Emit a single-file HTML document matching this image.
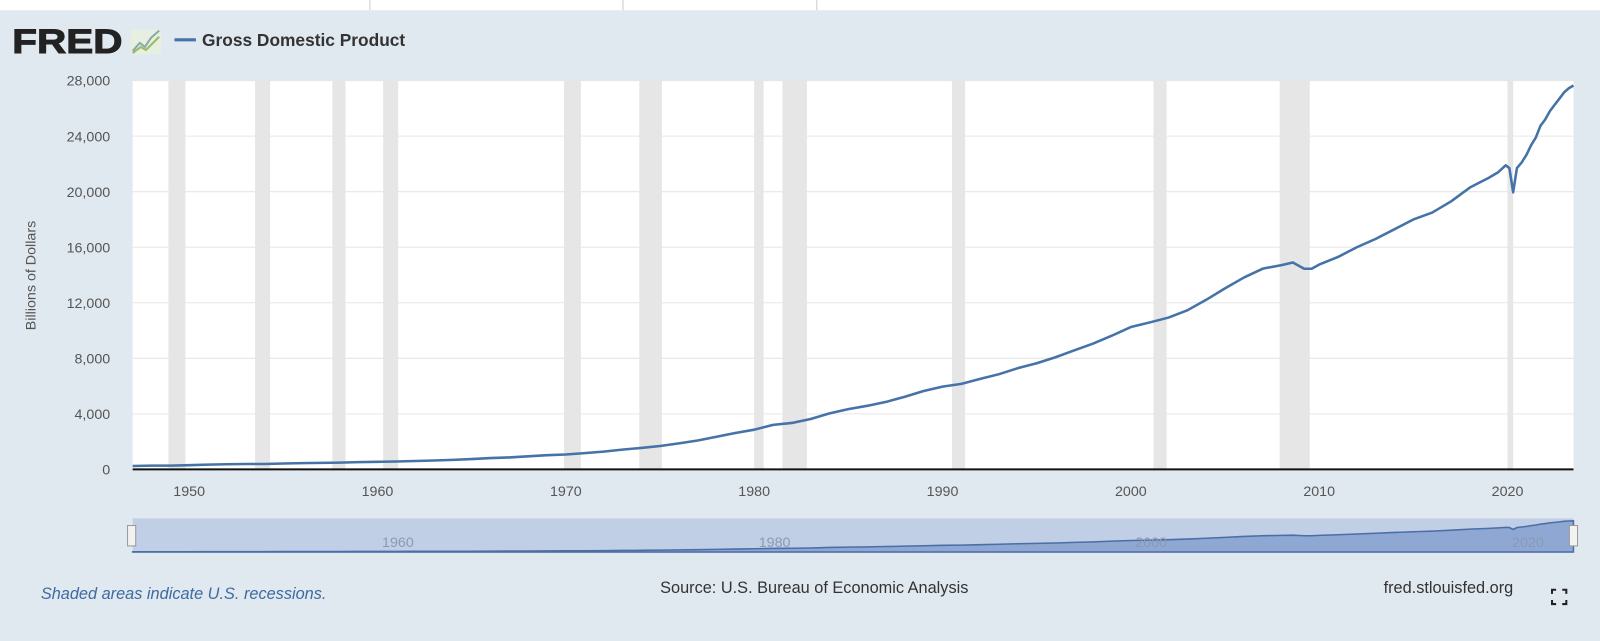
<!DOCTYPE html>
<html><head><meta charset="utf-8"><style>
body{margin:0;width:1600px;height:640px;background:#e1e9f0;font-family:"Liberation Sans",sans-serif;overflow:hidden}
#wrap{position:absolute;left:0;top:0;width:1568px;height:628px;transform:scale(1.0204);transform-origin:0 0}
</style></head><body>
<div id="wrap">
<div style="position:absolute;left:0;top:0;width:1568px;height:10px;background:#fff"></div>
<div style="position:absolute;left:362px;top:0;width:1px;height:10px;background:#ccc"></div>
<div style="position:absolute;left:610px;top:0;width:1px;height:10px;background:#ccc"></div>
<div style="position:absolute;left:800px;top:0;width:1px;height:10px;background:#ccc"></div>
<svg id="c" width="1568" height="628" style="position:absolute;left:0;top:0" xmlns="http://www.w3.org/2000/svg">
<g>
<text x="12" y="52" font-family="Liberation Sans" font-weight="bold" font-size="34" fill="#222" stroke="#222" stroke-width="1" textLength="108" lengthAdjust="spacingAndGlyphs">FRED</text>
<rect x="128" y="29" width="30" height="24" fill="#e6efe0"/>
<polyline points="130,50 137,42 142,46 148,37 156,30" fill="none" stroke="#8aa" stroke-width="2"/>
<polyline points="130,52 138,46 143,49 150,42 156,36" fill="none" stroke="#9b6" stroke-width="2"/>
</g>
<line x1="171" y1="39" x2="192" y2="39" stroke="#4572a7" stroke-width="3"/>
<text x="198" y="45" font-size="17" font-weight="bold" fill="#333">Gross Domestic Product</text>
<rect x="130" y="79" width="1412" height="381" fill="#fff"/>
<g id="rec"></g><g id="grid"></g>
<text transform="translate(35,270) rotate(-90)" text-anchor="middle" font-size="14" fill="#555">Billions of Dollars</text>
<g id="ylab"></g><g id="xlab"></g>
<line x1="130" y1="460" x2="1542" y2="460" stroke="#111" stroke-width="2"/>
<path id="line" fill="none" stroke="#4572a7" stroke-width="2.5" stroke-linejoin="round"/>
<g>
<rect x="130" y="508" width="1412" height="34" fill="#c0cfe6"/>
<path id="navarea" fill="#8ea7d3" stroke="#4a6fa5" stroke-width="1.5"/>
<g id="navlab"></g>
<rect x="125" y="515" width="8" height="20" fill="#f2f2f2" stroke="#999"/>
<rect x="1538" y="515" width="8" height="20" fill="#f2f2f2" stroke="#999"/>
</g>
<text x="40" y="587" font-size="16" font-style="italic" fill="#3d6aa0">Shaded areas indicate U.S. recessions.</text>
<text x="798" y="581" text-anchor="middle" font-size="16" fill="#333">Source: U.S. Bureau of Economic Analysis</text>
<text x="1483" y="581" text-anchor="end" font-size="16" fill="#333">fred.stlouisfed.org</text>
<g stroke="#222" stroke-width="2" fill="none">
<polyline points="1521,582 1521,578 1525,578"/><polyline points="1531,578 1535,578 1535,582"/>
<polyline points="1521,588 1521,592 1525,592"/><polyline points="1531,592 1535,592 1535,588"/>
</g>
</svg>
</div>
<script>
const years=[1947,1948,1949,1950,1951,1952,1953,1954,1955,1956,1957,1958,1959,1960,1961,1962,1963,1964,1965,1966,1967,1968,1969,1970,1971,1972,1973,1974,1975,1976,1977,1978,1979,1980,1981,1982,1983,1984,1985,1986,1987,1988,1989,1990,1991,1992,1993,1994,1995,1996,1997,1998,1999,2000,2001,2002,2003,2004,2005,2006,2007,2008,2008.6,2009.2,2009.6,2010,2011,2012,2013,2014,2015,2016,2017,2018,2019,2019.5,2019.9,2020.1,2020.3,2020.5,2020.75,2021,2021.25,2021.5,2021.75,2022,2022.25,2022.5,2022.75,2023,2023.25,2023.5];
const gdp=[243,269,272,300,347,367,389,391,426,449,474,482,522,543,563,604,638,685,743,815,862,943,1019,1073,1165,1280,1425,1545,1684,1873,2082,2352,2627,2857,3207,3343,3634,4037,4339,4580,4855,5236,5642,5963,6158,6520,6859,7287,7640,8073,8577,9063,9631,10251,10582,10936,11458,12214,13037,13815,14452,14713,14900,14450,14450,14750,15300,16000,16600,17300,18000,18500,19300,20300,21000,21400,21900,21700,19950,21700,22100,22650,23350,23900,24750,25200,25800,26250,26700,27150,27450,27650];
const recessions=[[1948.9,1949.8],[1953.5,1954.3],[1957.6,1958.3],[1960.3,1961.1],[1969.9,1970.8],[1973.9,1975.1],[1980.0,1980.5],[1981.5,1982.8],[1990.5,1991.2],[2001.2,2001.9],[2007.9,2009.5],[2020.0,2020.3]];
const yTicks=[0,4000,8000,12000,16000,20000,24000,28000];
const xTicks=[1950,1960,1970,1980,1990,2000,2010,2020];
const navTicks=[1960,1980,2000,2020];
const NS="http://www.w3.org/2000/svg";
const X0=1947,X1=2023.5,PL=130,PR=1542,PT=79,PB=460;
const xs=v=>PL+(v-X0)/(X1-X0)*(PR-PL);
const ys=v=>PB-v/28000*(PB-PT);
const nys=v=>541-v/28000*31;
function mk(t,a,p){const e=document.createElementNS(NS,t);for(const k in a)e.setAttribute(k,a[k]);p.appendChild(e);return e;}
const rec=document.getElementById('rec');
recessions.forEach(r=>{const e=mk('rect',{x:xs(r[0]),y:PT,width:xs(r[1])-xs(r[0]),height:PB-PT,fill:'#e6e6e6'},rec);

});
const grid=document.getElementById('grid'),yl=document.getElementById('ylab');
yTicks.forEach(v=>{if(v>0){const g=mk('line',{x1:PL,x2:PR,y1:ys(v),y2:ys(v),stroke:'#e6e6e6','stroke-width':1},grid);

}
const t=mk('text',{x:108,y:ys(v)+5,'text-anchor':'end','font-size':14,fill:'#555'},yl);t.textContent=v.toLocaleString('en-US');

});
const xl=document.getElementById('xlab');
xTicks.forEach(v=>{const t=mk('text',{x:xs(v),y:486,'text-anchor':'middle','font-size':14,fill:'#555'},xl);t.textContent=v;

});
const nl=document.getElementById('navlab');
navTicks.forEach(v=>{const t=mk('text',{x:xs(v)+20,y:536,'text-anchor':'middle','font-size':14,fill:'#8a9ab5'},nl);t.textContent=v;

});
let d='';years.forEach((y,i)=>{d+=(i?'L':'M')+xs(y).toFixed(1)+','+ys(gdp[i]).toFixed(1);});
document.getElementById('line').setAttribute('d',d);
let n='M'+xs(years[0])+',541';years.forEach((y,i)=>{n+='L'+xs(y).toFixed(1)+','+nys(gdp[i]).toFixed(1);});n+='L'+xs(years[years.length-1])+',541Z';
document.getElementById('navarea').setAttribute('d',n);
</script>
</body></html>
